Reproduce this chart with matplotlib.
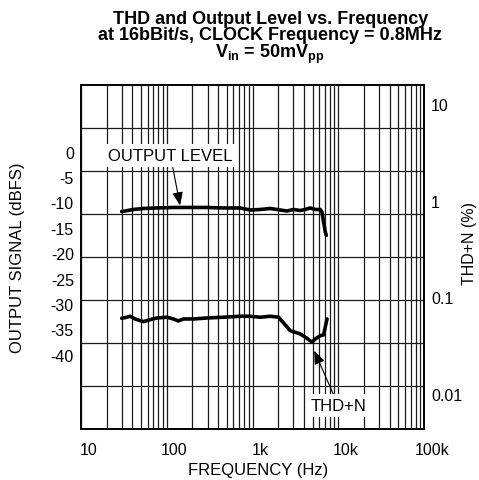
import numpy as np
import matplotlib
matplotlib.use("Agg")
import matplotlib.pyplot as plt
from matplotlib.ticker import FixedLocator, LogLocator, NullFormatter, NullLocator
from matplotlib.transforms import ScaledTranslation

plt.rcParams['font.family'] = ['Liberation Sans', 'DejaVu Sans']
plt.rcParams['mathtext.fontset'] = 'custom'
plt.rcParams['mathtext.rm'] = 'Liberation Sans'
plt.rcParams['mathtext.bf'] = 'Liberation Sans:bold'

# output level curve (left axis, dBFS)
level_freq = [30, 41, 53.7, 76.9, 120, 188, 294, 459, 719, 940, 1230, 1607,
              2104, 2518, 3006, 3597, 4113, 4700, 5380, 6150, 6440, 6720, 7030, 7230]
level_dbfs = [-11.8, -11.4, -11.2, -11.1, -11.0, -11.0, -11.0, -11.1, -11.1, -11.5, -11.4, -11.2,
              -11.5, -11.7, -11.4, -11.6, -11.4, -11.1, -11.4, -11.4, -11.9, -13.8, -15.8, -16.5]

# THD+N curve (right axis, %)
thd_freq = [30, 34.4, 37.5, 42.9, 53.7, 64.2, 76.9, 100.5, 120, 137, 157, 205, 294, 459,
            719, 940, 1230, 1607, 2010, 2297, 2750, 3147, 3597, 4305, 4923, 5380, 6150, 6720, 7365]
thd_pct = [0.0609, 0.0624, 0.0639, 0.0599, 0.0562, 0.0589, 0.0613, 0.0624, 0.0599, 0.0571,
           0.0599, 0.0599, 0.0613, 0.0624, 0.0639, 0.0639, 0.0624, 0.0639, 0.0624, 0.0545,
           0.0453, 0.0436, 0.0419, 0.0378, 0.0344, 0.0372, 0.0402, 0.0409, 0.0599]

x_ticks = [10, 100, 1000, 10000, 100000]
x_labels = ['10', '100', '1k', '10k', '100k']
left_ticks = [0, -5, -10, -15, -20, -25, -30, -35, -40]
right_ticks = [0.01, 0.1, 1, 10]
right_labels = ['0.01', '0.1', '1', '10']

fig = plt.figure(figsize=(4.79, 4.81), dpi=100)
ax = fig.add_axes([0.1685, 0.106, 0.7173, 0.7152])
ax2 = ax.twinx()

grid_kw = dict(color='#1a1a1a', linewidth=0.9)

# x axis: log decades with 2..9 minor grid
ax.set_xscale('log')
ax.set_xlim(10, 100000)
ax.xaxis.set_major_locator(FixedLocator(x_ticks))
ax.set_xticklabels(x_labels)
ax.xaxis.set_minor_locator(LogLocator(base=10, subs=np.arange(2, 10)))
ax.xaxis.set_minor_formatter(NullFormatter())
ax.grid(True, axis='x', which='both', **grid_kw)

# left axis
lo, hi = -54.6, 13.1
ax.set_ylim(lo, hi)
ax.set_yticks(left_ticks)
ax.set_yticklabels([str(t) for t in left_ticks])
ax.yaxis.set_minor_locator(FixedLocator(np.linspace(lo, hi, 9)[1:-1]))
ax.grid(True, axis='y', which='minor', **grid_kw)
ax.grid(False, axis='y', which='major')

# right axis
ax2.set_yscale('log')
ax2.set_ylim(0.00435, 15.8)
ax2.yaxis.set_major_locator(FixedLocator(right_ticks))
ax2.set_yticklabels(right_labels)
ax2.yaxis.set_minor_locator(NullLocator())

for a in (ax, ax2):
    a.tick_params(which='both', length=0, labelsize=11.5, colors='black')
    for s in a.spines.values():
        s.set_linewidth(1.2)
        s.set_color('black')
ax.tick_params(axis='x', pad=9)
ax.tick_params(axis='y', pad=5)
ax2.tick_params(axis='y', pad=5)

for lbl in ax.get_xticklabels():
    lbl.set_transform(lbl.get_transform() + ScaledTranslation(0.075, 0, fig.dpi_scale_trans))

ax.plot(level_freq, level_dbfs, color='black', linewidth=2.6, solid_capstyle='round')
ax2.plot(thd_freq, thd_pct, color='black', linewidth=2.6, solid_capstyle='round')

arrow = dict(arrowstyle='-|>,head_length=0.8,head_width=0.32', color='black',
             linewidth=0.8, mutation_scale=10, shrinkA=0, shrinkB=0)
box = dict(boxstyle='square,pad=0.25', fc='white', ec='none')
ax.annotate('OUTPUT LEVEL', xy=(143.6, -10.6), xytext=(111, -0.8),
            ha='center', va='center', fontsize=12, bbox=box, arrowprops=arrow)
ax2.annotate('THD+N', xy=(5236, 0.0281), xytext=(9980, 0.0076),
             ha='center', va='center', fontsize=12, bbox=box, arrowprops=arrow)

ax.set_xlabel('FREQUENCY (Hz)', fontsize=12, va='center')
ax.xaxis.set_label_coords(0.516, -0.119)
ax.set_ylabel('OUTPUT SIGNAL (dBFS)', fontsize=12, va='center')
ax.yaxis.set_label_coords(-0.184, 0.5015)
ax2.set_ylabel('THD+N (%)', fontsize=11.5, va='center', rotation=90)
ax2.yaxis.set_label_coords(1.132, 0.5436)

fig.text(0.564, 1 - 24 / 481, 'THD and Output Level vs. Frequency',
         ha='center', va='baseline', fontsize=13, fontweight='bold')
fig.text(0.564, 1 - 40 / 481, 'at 16bBit/s, CLOCK Frequency = 0.8MHz',
         ha='center', va='baseline', fontsize=13, fontweight='bold')
fig.text(0.564, 1 - 58 / 481, r'V$_\mathbf{in}$ = 50mV$_\mathbf{pp}$',
         ha='center', va='baseline', fontsize=13, fontweight='bold')

fig.savefig('out.png', dpi=100)
